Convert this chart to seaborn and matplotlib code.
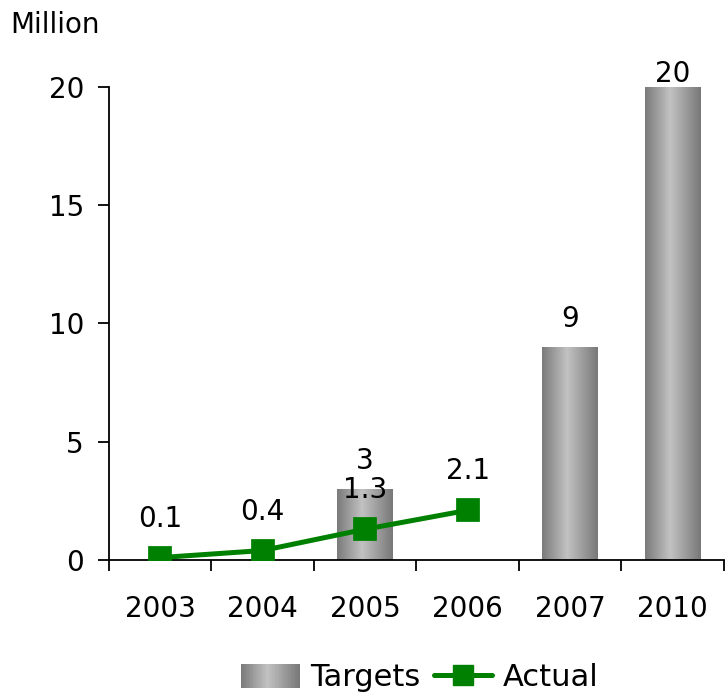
import numpy as np
import pandas as pd
import matplotlib
matplotlib.use("Agg")
import matplotlib.pyplot as plt
import seaborn as sns
from matplotlib.colors import LinearSegmentedColormap
from matplotlib.legend_handler import HandlerBase
from matplotlib.patches import Rectangle
from matplotlib.lines import Line2D

# ---- data ----
categories = ["2003", "2004", "2005", "2006", "2007", "2010"]
target_years = ["2005", "2007", "2010"]
target_values = [3, 9, 20]
actual_years = ["2003", "2004", "2005", "2006"]
actual_values = [0.1, 0.4, 1.3, 2.1]
y_ticks = [0, 5, 10, 15, 20]

sns.set_theme(style="white")
plt.rcParams["font.family"] = ["DejaVu Sans"]
plt.rcParams["text.color"] = "black"
plt.rcParams["xtick.color"] = "black"
plt.rcParams["ytick.color"] = "black"
plt.rcParams["xtick.labelcolor"] = "black"
plt.rcParams["ytick.labelcolor"] = "black"

FS = 20

fig = plt.figure(figsize=(7.26, 6.97), dpi=100)
ax = fig.add_axes([0.150, 0.1966, 0.847, 0.6786])

tdf = pd.DataFrame({"year": target_years, "value": target_values})
adf = pd.DataFrame({"year": actual_years, "value": actual_values})

sns.barplot(data=tdf, x="year", y="value", order=categories, width=0.54,
            color="#a0a0a0", saturation=1, ax=ax, zorder=2)

grad_cmap = LinearSegmentedColormap.from_list(
    "cyl", [(0, "#7a7a7a"), (0.45, "#c2c2c2"), (1, "#787878")])
grad = np.linspace(0, 1, 256).reshape(1, -1)
for p in list(ax.patches):
    x0, y0 = p.get_x(), p.get_y()
    w, h = p.get_width(), p.get_height()
    if not np.isfinite(h) or h == 0:
        continue
    im = ax.imshow(grad, cmap=grad_cmap, aspect="auto",
                   extent=[x0, x0 + w, y0, y0 + h], zorder=2)
    im.set_clip_path(p)
    p.set_facecolor("none")
    p.set_edgecolor("none")
    ax.text(x0 + w / 2, min(h + 0.6, 19.95), f"{h:g}", ha="center", va="bottom",
            fontsize=FS, color="black", zorder=5, clip_on=False)

sns.pointplot(data=adf, x="year", y="value", order=categories,
              color="#008000", markers="s", markersize=14, linewidth=3.6,
              ax=ax, zorder=4)
for yr, v in zip(actual_years, actual_values):
    xi = categories.index(yr)
    ax.text(xi, v + 1.05, f"{v:g}", ha="center", va="bottom",
            fontsize=FS, color="black", zorder=5)

ax.set_xlim(-0.5, len(categories) - 0.5)
ax.set_ylim(0, 20)
ax.set_xlabel("")
ax.set_ylabel("")
ax.set_yticks(y_ticks)
ax.set_yticklabels([str(t) for t in y_ticks], fontsize=FS)
ax.set_xticks(np.arange(len(categories) + 1) - 0.5)
ax.set_xticklabels([""] * (len(categories) + 1))
ax.set_xticks(np.arange(len(categories)), minor=True)
ax.set_xticklabels(categories, minor=True, fontsize=FS)
ax.tick_params(axis="x", which="major", direction="out", length=8, width=1.3,
               color="black", bottom=True)
ax.tick_params(axis="x", which="minor", length=0, pad=25, bottom=True,
               labelcolor="black")
ax.tick_params(axis="y", direction="out", length=8, width=1.3, color="black",
               left=True, pad=10, labelcolor="black")
for s in ["top", "right"]:
    ax.spines[s].set_visible(False)
for s in ["left", "bottom"]:
    ax.spines[s].set_color("black")
    ax.spines[s].set_linewidth(1.3)
ax.grid(False)

fig.text(10 / 726, 1 - 25 / 697, "Million", ha="left", va="center", fontsize=20,
         color="black")


class GradHandler(HandlerBase):
    def create_artists(self, legend, orig_handle, xdescent, ydescent,
                       width, height, fontsize, trans):
        arts = []
        n = 40
        for k in range(n):
            c = grad_cmap((k + 0.5) / n)
            r = Rectangle((-xdescent + width * k / n, -ydescent), width / n + 0.3,
                          height, facecolor=c, edgecolor="none", transform=trans)
            arts.append(r)
        return arts


bar_handle = Rectangle((0, 0), 1, 1)
line_handle = Line2D([0], [0], color="#008000", lw=3.6, marker="s", markersize=14)
leg = fig.legend([bar_handle, line_handle], ["Targets", "Actual"],
                 handler_map={Rectangle: GradHandler()},
                 loc="center", bbox_to_anchor=(420 / 726, 1 - 678 / 697), ncol=2,
                 frameon=False, fontsize=22, handlelength=1.9, handleheight=0.85,
                 handletextpad=0.35, columnspacing=0.45)
for t in leg.get_texts():
    t.set_color("black")

fig.savefig("out.png", dpi=100)
